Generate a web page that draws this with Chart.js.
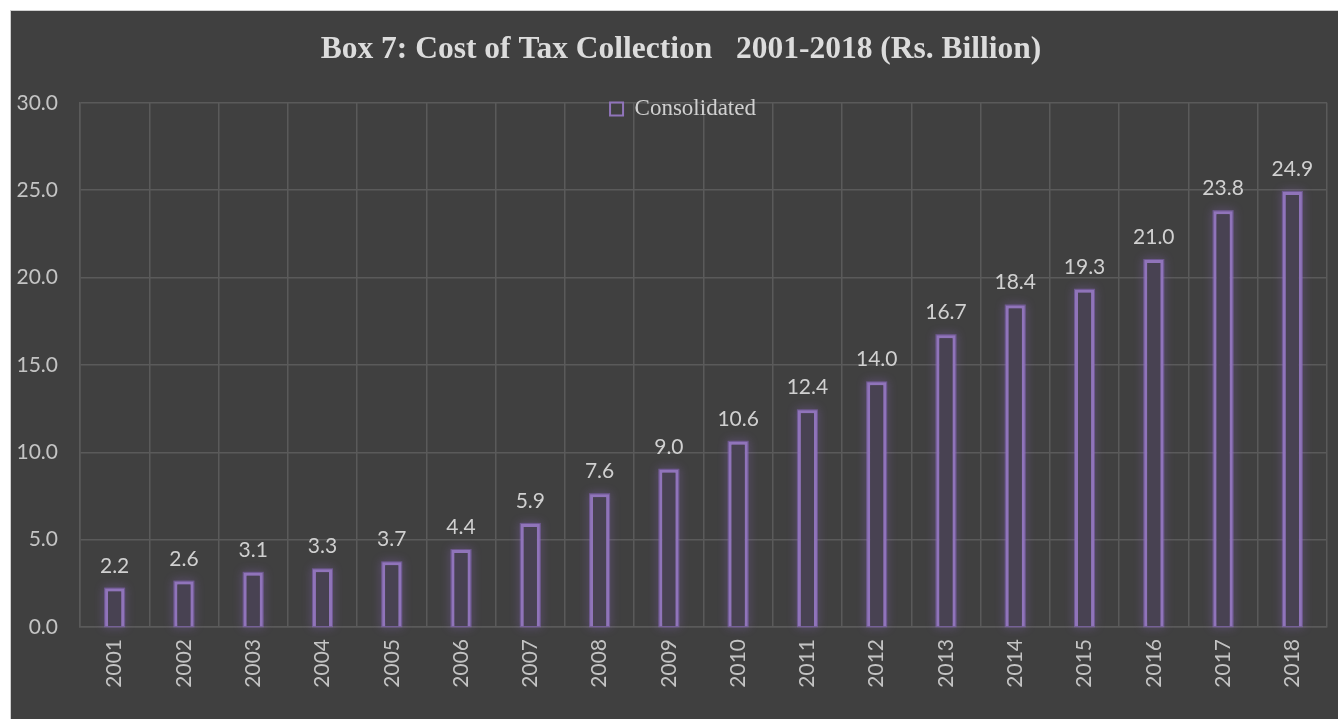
<!DOCTYPE html>
<html>
<head>
<meta charset="utf-8">
<script src="https://cdn.jsdelivr.net/npm/chart.js@4.4.1/dist/chart.umd.min.js"></script>
<style>
  html, body { margin: 0; padding: 0; background: #ffffff; width: 1338px; height: 719px; overflow: hidden; }
  #wrap { position: absolute; left: 10px; top: 10px; width: 1327px; height: 708px; border: 1px solid #cfcfcf; background: #404040; }
  canvas { display: block; }
</style>
</head>
<body>
<div id="wrap"><canvas id="c"></canvas></div>
<script>
const categories = ['2001','2002','2003','2004','2005','2006','2007','2008','2009','2010','2011','2012','2013','2014','2015','2016','2017','2018'];
const consolidated = [2.2, 2.6, 3.1, 3.3, 3.7, 4.4, 5.9, 7.6, 9.0, 10.6, 12.4, 14.0, 16.7, 18.4, 19.3, 21.0, 23.8, 24.9];
const seriesName = 'Consolidated';
const titleText = 'Box 7: Cost of Tax Collection   2001-2018 (Rs. Billion)';
const yTicks = [0, 5, 10, 15, 20, 25, 30];

// soft purple glow behind each bar, drawn from the bar elements' own geometry
const glowPlugin = {
  id: 'glow',
  beforeDatasetsDraw(chart) {
    const ctx = chart.ctx;
    const meta = chart.getDatasetMeta(0);
    ctx.save();
    ctx.shadowColor = 'rgba(150,110,210,0.85)';
    ctx.shadowBlur = 10;
    ctx.strokeStyle = 'rgba(140,105,195,0.55)';
    ctx.lineWidth = 4;
    meta.data.forEach(bar => {
      const p = bar.getProps(['x', 'y', 'base', 'width'], true);
      const left = p.x - p.width / 2;
      const top = Math.min(p.y, p.base);
      const h = Math.abs(p.base - p.y);
      ctx.strokeRect(left + 1, top + 1, p.width - 2, h - 2);
    });
    ctx.restore();
  }
};

// place the legend inside the top of the plot and nudge the title, as in the reference
const placePlugin = {
  id: 'place',
  afterLayout(chart) {
    const lg = chart.legend;
    if (lg) {
      const h = lg.height;
      lg.top = 98 - h / 2 + 5;
      lg.bottom = lg.top + h;
      lg.left += 14;
      lg.right += 14;
    }
    const t = chart.titleBlock;
    if (t) {
      t.left += 12;
      t.right += 12;
    }
  }
};

const labelPlugin = {
  id: 'valueLabels',
  afterDatasetsDraw(chart) {
    const ctx = chart.ctx;
    const meta = chart.getDatasetMeta(0);
    ctx.save();
    ctx.font = '21px Lato';
    ctx.fillStyle = '#d0d0d0';
    ctx.textAlign = 'center';
    ctx.textBaseline = 'alphabetic';
    meta.data.forEach((bar, i) => {
      ctx.fillText(consolidated[i].toFixed(1), bar.x, bar.y - 16);
    });
    ctx.restore();
  }
};

new Chart(document.getElementById('c'), {
  type: 'bar',
  data: {
    labels: categories,
    datasets: [{
      label: seriesName,
      data: consolidated,
      backgroundColor: 'rgba(72,66,82,1)',
      borderColor: '#9074ba',
      borderWidth: 3,
      barPercentage: 0.275,
      categoryPercentage: 1.0
    }]
  },
  options: {
    responsive: true,
    maintainAspectRatio: false,
    animation: false,
    layout: { padding: { left: 0, right: 11, top: 0, bottom: 0 } },
    plugins: {
      title: {
        display: true,
        text: titleText,
        color: '#dcdcdc',
        font: { family: 'Liberation Serif', size: 31.5, weight: 'bold' },
        padding: { top: 20, bottom: 1 }
      },
      legend: {
        display: true,
        position: 'top',
        align: 'center',
        labels: {
          color: '#d0d0d0',
          font: { family: 'Liberation Serif', size: 23 },
          boxWidth: 13,
          boxHeight: 13,
          padding: 0,
          generateLabels(chart) {
            return [{
              text: seriesName,
              fillStyle: 'rgba(0,0,0,0)',
              strokeStyle: '#9074ba',
              lineWidth: 2,
              fontColor: '#d0d0d0',
              datasetIndex: 0,
              hidden: false
            }];
          }
        }
      },
      tooltip: { enabled: false }
    },
    scales: {
      x: {
        grid: { color: '#5a5a5a', lineWidth: 1.5, offset: true, drawTicks: false },
        border: { color: '#5a5a5a', width: 1.5 },
        ticks: {
          color: '#c4c4c4',
          font: { family: 'Lato', size: 21 },
          minRotation: 90,
          maxRotation: 90,
          padding: 12
        },
        afterFit(scale) { scale.height = 92; }
      },
      y: {
        min: 0,
        max: 30,
        grid: { color: '#5a5a5a', lineWidth: 1.5, drawTicks: false },
        border: { color: '#5a5a5a', width: 1.5 },
        afterBuildTicks(scale) { scale.ticks = yTicks.map(v => ({ value: v })); },
        ticks: {
          color: '#c4c4c4',
          font: { family: 'Lato', size: 21 },
          padding: 22,
          callback: (v) => Number(v).toFixed(1)
        },
        afterFit(scale) { scale.width = 69; }
      }
    }
  },
  plugins: [placePlugin, glowPlugin, labelPlugin]
});
</script>
</body>
</html>
